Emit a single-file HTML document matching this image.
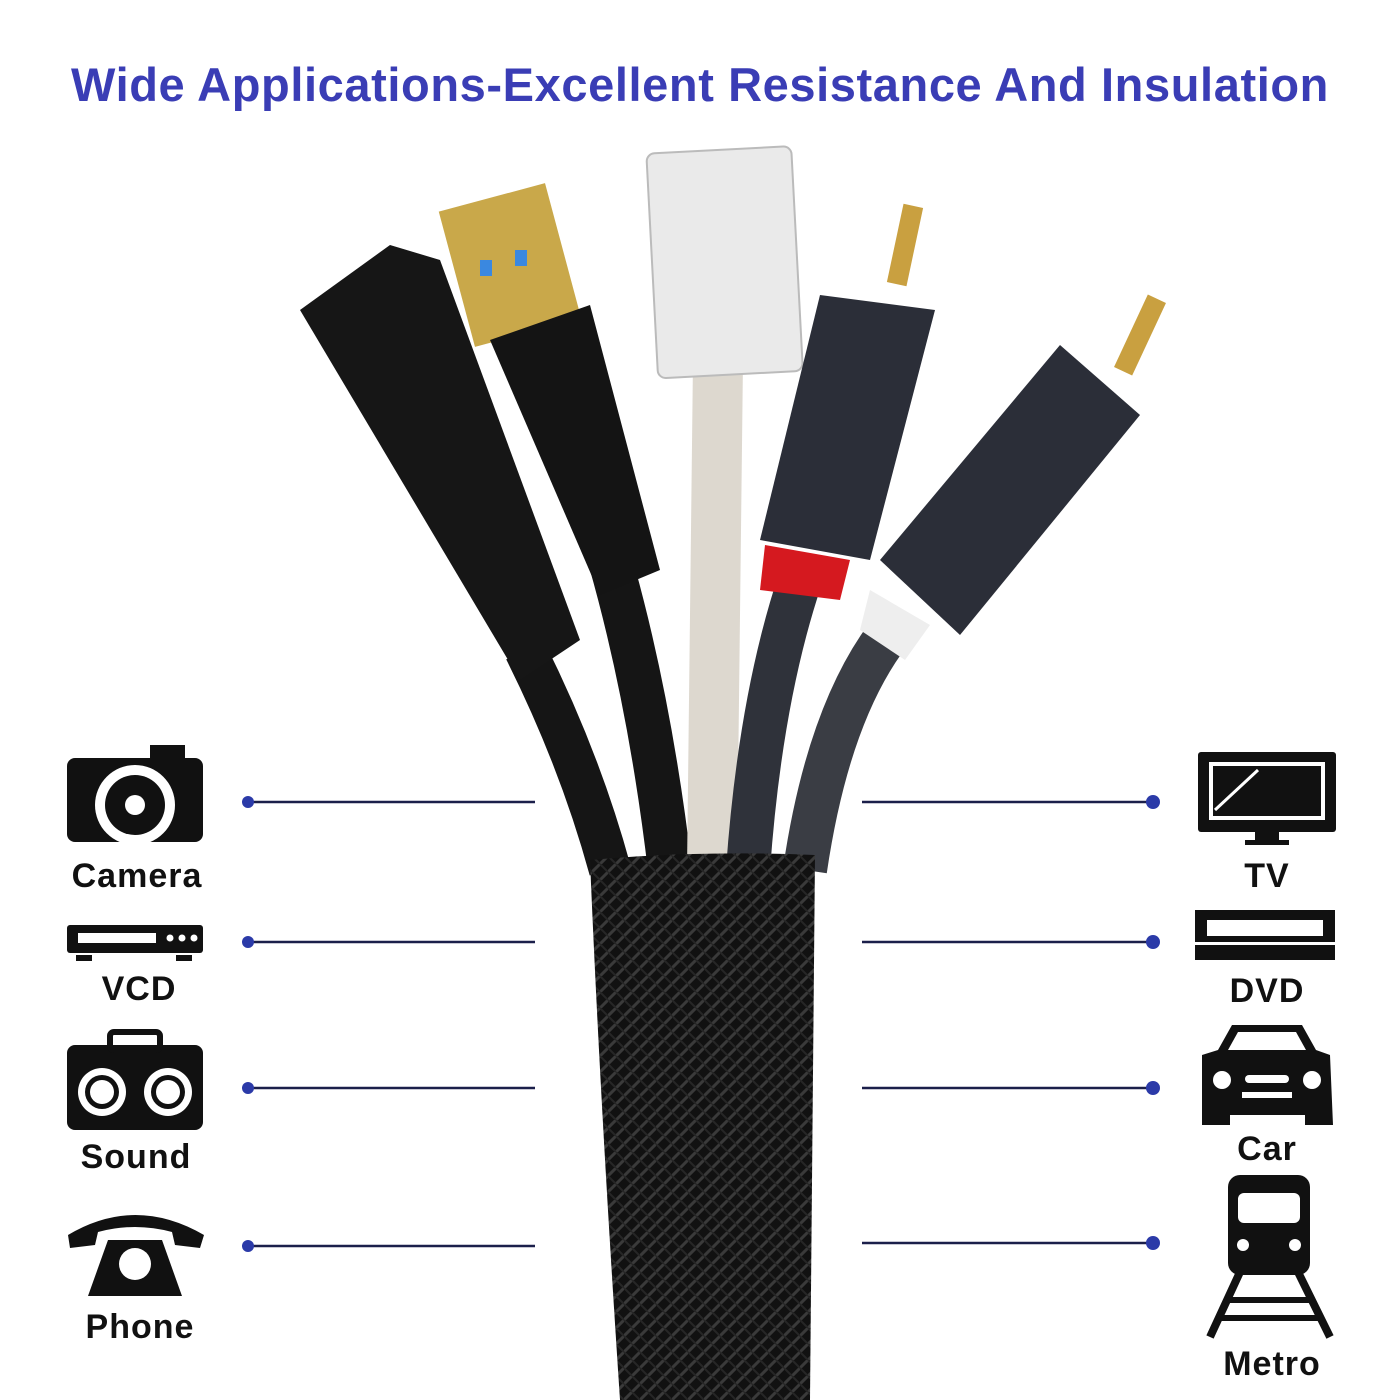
<!DOCTYPE html>
<html><head><meta charset="utf-8"><style>
html,body{margin:0;padding:0;background:#fff;}
body{width:1400px;height:1400px;position:relative;overflow:hidden;font-family:"Liberation Sans",sans-serif;}
.t{position:absolute;top:57px;left:0;width:1400px;text-align:center;font-weight:bold;font-size:47px;color:#3a3db5;letter-spacing:0.6px;white-space:nowrap;}
.lab{position:absolute;font-size:34px;font-weight:bold;color:#111;text-align:center;width:200px;letter-spacing:1px;}
</style></head><body>
<div class="t">Wide Applications-Excellent Resistance And Insulation</div>
<svg width="1400" height="1400" style="position:absolute;left:0;top:0">
<defs>
<pattern id="br" width="16" height="16" patternUnits="userSpaceOnUse">
<rect width="16" height="16" fill="#111"/>
<path d="M0 8 L8 0 M8 16 L16 8" stroke="#3a3a3a" stroke-width="3"/>
<path d="M0 8 L8 16 M8 0 L16 8" stroke="#262626" stroke-width="2"/>
</pattern>
</defs>
<path d="M525 650 Q580 760 610 870" stroke="#151515" stroke-width="42" fill="none"/>
<path d="M610 560 Q650 700 670 870" stroke="#151515" stroke-width="44" fill="none"/>
<path d="M718 360 L712 870" stroke="#ddd8cf" stroke-width="50" fill="none"/>
<path d="M800 580 Q760 700 748 870" stroke="#2f323a" stroke-width="44" fill="none"/>
<path d="M900 620 Q830 700 805 870" stroke="#3a3d44" stroke-width="44" fill="none"/>
<path d="M300 310 L390 245 L440 260 L580 640 L520 680 Z" fill="#161616"/>
<rect x="455" y="195" width="110" height="140" fill="#c9a84a" transform="rotate(-15 510 265)"/>
<rect x="480" y="260" width="12" height="16" fill="#3a88e0"/>
<rect x="515" y="250" width="12" height="16" fill="#3a88e0"/>
<path d="M490 340 L590 305 L660 570 L600 595 Z" fill="#141414"/>
<rect x="652" y="150" width="145" height="225" rx="8" fill="#eaeaea" stroke="#bbb" stroke-width="2" transform="rotate(-3 720 260)"/>
<rect x="895" y="205" width="20" height="80" fill="#c9a040" transform="rotate(12 905 245)"/>
<path d="M820 295 L935 310 L870 560 L760 540 Z" fill="#2b2e38"/>
<path d="M765 545 L850 560 L840 600 L760 590 Z" fill="#d5191f"/>
<rect x="1130" y="295" width="20" height="80" fill="#c9a040" transform="rotate(25 1140 335)"/>
<path d="M1060 345 L1140 415 L960 635 L880 560 Z" fill="#2b2e38"/>
<path d="M870 590 L930 625 L905 660 L860 630 Z" fill="#eee"/>
<path d="M590 860 Q700 850 815 855 L810 1400 L620 1400 Q600 1100 590 860 Z" fill="url(#br)"/>
<g stroke="#1b1f4a" stroke-width="2.5">
<line x1="248" y1="802" x2="535" y2="802"/><line x1="248" y1="942" x2="535" y2="942"/>
<line x1="248" y1="1088" x2="535" y2="1088"/><line x1="248" y1="1246" x2="535" y2="1246"/>
<line x1="862" y1="802" x2="1153" y2="802"/><line x1="862" y1="942" x2="1153" y2="942"/>
<line x1="862" y1="1088" x2="1153" y2="1088"/><line x1="862" y1="1243" x2="1153" y2="1243"/>
</g>
<g fill="#2b3aa8">
<circle cx="248" cy="802" r="6"/><circle cx="248" cy="942" r="6"/><circle cx="248" cy="1088" r="6"/><circle cx="248" cy="1246" r="6"/>
<circle cx="1153" cy="802" r="7"/><circle cx="1153" cy="942" r="7"/><circle cx="1153" cy="1088" r="7"/><circle cx="1153" cy="1243" r="7"/>
</g>
<rect x="67" y="758" width="136" height="84" rx="8" fill="#111"/>
<rect x="150" y="745" width="35" height="18" fill="#111"/>
<circle cx="135" cy="805" r="40" fill="#fff"/><circle cx="135" cy="805" r="30" fill="#111"/><circle cx="135" cy="805" r="10" fill="#fff"/>
<rect x="67" y="925" width="136" height="28" rx="3" fill="#111"/>
<rect x="78" y="933" width="78" height="10" fill="#fff"/>
<circle cx="170" cy="938" r="3.5" fill="#fff"/><circle cx="182" cy="938" r="3.5" fill="#fff"/><circle cx="194" cy="938" r="3.5" fill="#fff"/>
<rect x="76" y="955" width="16" height="6" fill="#111"/><rect x="176" y="955" width="16" height="6" fill="#111"/>
<rect x="67" y="1045" width="136" height="85" rx="8" fill="#111"/>
<rect x="110" y="1032" width="50" height="18" rx="4" fill="none" stroke="#111" stroke-width="6"/>
<circle cx="102" cy="1092" r="24" fill="#fff"/><circle cx="102" cy="1092" r="17" fill="#111"/><circle cx="102" cy="1092" r="12" fill="#fff"/>
<circle cx="168" cy="1092" r="24" fill="#fff"/><circle cx="168" cy="1092" r="17" fill="#111"/><circle cx="168" cy="1092" r="12" fill="#fff"/>
<path d="M68 1235 Q135 1195 204 1235 L200 1248 L175 1245 L172 1232 Q135 1222 98 1232 L95 1245 L70 1248 Z" fill="#111"/>
<path d="M108 1240 L162 1240 L182 1296 L88 1296 Z" fill="#111"/>
<circle cx="135" cy="1264" r="16" fill="#fff"/>
<rect x="1198" y="752" width="138" height="80" rx="3" fill="#111"/>
<rect x="1209" y="762" width="116" height="58" fill="#fff"/>
<rect x="1213" y="766" width="108" height="50" fill="#111"/>
<path d="M1215 810 L1258 770" stroke="#fff" stroke-width="3"/>
<rect x="1255" y="832" width="24" height="8" fill="#111"/><rect x="1245" y="840" width="44" height="5" fill="#111"/>
<rect x="1195" y="910" width="140" height="50" fill="#111"/>
<rect x="1207" y="920" width="116" height="16" fill="#fff"/>
<rect x="1195" y="942" width="140" height="3" fill="#fff"/>
<path d="M1218 1050 L1232 1025 L1302 1025 L1316 1050 L1330 1055 L1333 1125 L1305 1125 L1305 1115 L1230 1115 L1230 1125 L1202 1125 L1202 1055 Z" fill="#111"/>
<path d="M1228 1050 L1238 1032 L1296 1032 L1306 1050 Z" fill="#fff"/>
<circle cx="1222" cy="1080" r="9" fill="#fff"/><circle cx="1312" cy="1080" r="9" fill="#fff"/>
<rect x="1245" y="1075" width="44" height="8" rx="4" fill="#fff"/>
<rect x="1242" y="1092" width="50" height="6" fill="#fff"/>
<rect x="1228" y="1175" width="82" height="100" rx="12" fill="#111"/>
<rect x="1238" y="1193" width="62" height="30" rx="6" fill="#fff"/>
<circle cx="1243" cy="1245" r="6" fill="#fff"/><circle cx="1295" cy="1245" r="6" fill="#fff"/>
<path d="M1240 1272 L1210 1337 M1298 1272 L1330 1337" stroke="#111" stroke-width="8"/>
<path d="M1226 1300 L1314 1300 M1217 1318 L1322 1318" stroke="#111" stroke-width="6"/>
</svg>
<div class="lab" style="left:37px;top:857px;">Camera</div>
<div class="lab" style="left:39px;top:970px;">VCD</div>
<div class="lab" style="left:36px;top:1138px;">Sound</div>
<div class="lab" style="left:40px;top:1308px;">Phone</div>
<div class="lab" style="left:1167px;top:857px;">TV</div>
<div class="lab" style="left:1167px;top:972px;">DVD</div>
<div class="lab" style="left:1167px;top:1130px;">Car</div>
<div class="lab" style="left:1172px;top:1345px;">Metro</div>
</body></html>
